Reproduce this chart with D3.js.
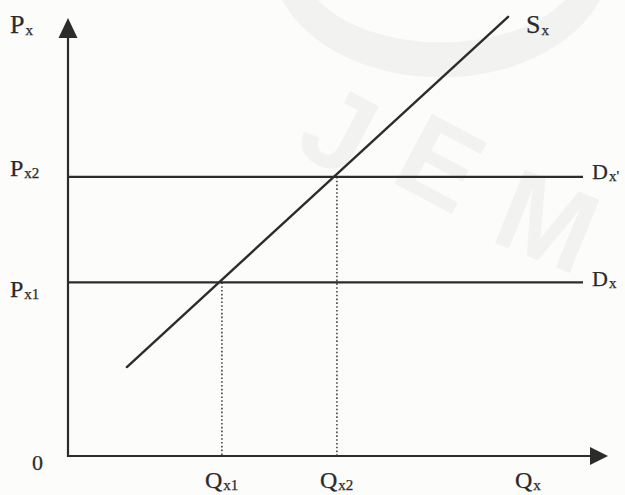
<!DOCTYPE html>
<html>
<head>
<meta charset="utf-8">
<script src="https://cdn.jsdelivr.net/npm/d3@7"></script>
<style>
  html, body { margin: 0; padding: 0; background: #fcfcfb; }
  svg { display: block; }
  .lbl { font-family: "Liberation Serif", "DejaVu Serif", serif; fill: #2a2a2a;
         stroke: #2a2a2a; stroke-width: 0.25; }
  .stamp { font-family: "Liberation Sans", sans-serif; font-weight: bold; font-size: 115px; fill: #f2f2f0; }
</style>
</head>
<body>
<svg id="chart" width="625" height="495"></svg>
<script>
// Price levels set by the two demand lines (Dx and Dx')
const priceLevels = [40, 64.3];
const priceLabels = ["x1", "x2"];
const demandLabels = ["x", "x'"];
// Quantities supplied at those prices
const quantityLevels = [28.5, 49.8];
const quantityLabels = ["x1", "x2"];
// Supply curve Sx, drawn as a straight line between its two ends
const supplyQ = [10.9, 81.5];
const supplyP = [20.5, 101.2];

const svg = d3.select("#chart");
const ink = "#2c2c2c";

const x = d3.scaleLinear().domain([0, 100]).range([68, 608]);
const y = d3.scaleLinear().domain([0, 100]).range([456, 22]);

// faint background stamp
const wm = svg.append("g");
wm.append("path").attr("fill", "#f2f2f0")
  .attr("d", "M282,0 A170,120 0 0 0 600,0 L565,0 A140,80 0 0 1 318,0 Z");
[["J", 292, 150, 28], ["E", 388, 180, 28], ["M", 488, 240, 22]].forEach(([ch, tx, ty, r]) => {
  wm.append("text").attr("class", "stamp").text(ch)
    .attr("transform", `translate(${tx},${ty}) rotate(${r})`);
});

// Axes with arrow heads
const x0 = x(0), y0 = y(0);
svg.append("line").attr("x1", x0).attr("y1", y0 + 1).attr("x2", x0).attr("y2", 30)
  .attr("stroke", ink).attr("stroke-width", 2.2);
svg.append("line").attr("x1", x0 - 1).attr("y1", y0).attr("x2", 598).attr("y2", y0)
  .attr("stroke", ink).attr("stroke-width", 2.2);
svg.append("path").attr("d", `M${x0},18 L${x0 + 9.5},38 L${x0 - 9.5},38 Z`).attr("fill", ink);
svg.append("path").attr("d", `M608,${y0} L590,${y0 - 9} L590,${y0 + 9} Z`).attr("fill", ink);

// Dotted drop lines from each intersection to the quantity axis
svg.selectAll(".drop").data(quantityLevels).join("line")
  .attr("class", "drop")
  .attr("x1", d => x(d)).attr("x2", d => x(d))
  .attr("y1", (d, i) => y(priceLevels[i])).attr("y2", y0)
  .attr("stroke", "#3a3a3a").attr("stroke-width", 1.5)
  .attr("stroke-dasharray", "1.6,2.2");

// Horizontal demand lines
svg.selectAll(".demand").data(priceLevels).join("line")
  .attr("class", "demand")
  .attr("x1", x0).attr("x2", 583)
  .attr("y1", d => y(d)).attr("y2", d => y(d))
  .attr("stroke", ink).attr("stroke-width", 2.2);

// Supply line
const supply = supplyQ.map((q, i) => [q, supplyP[i]]);
svg.append("path").datum(supply)
  .attr("d", d3.line().x(d => x(d[0])).y(d => y(d[1])))
  .attr("fill", "none").attr("stroke", ink).attr("stroke-width", 2.4)
  .attr("stroke-linecap", "round");

// Label with a subscript
function label(px, py, main, sub, size = 24, subSize = 15) {
  const t = svg.append("text").attr("class", "lbl")
    .attr("x", px).attr("y", py).style("font-size", size + "px");
  t.append("tspan").text(main);
  t.append("tspan").text(sub).attr("dx", 1).attr("dy", 2).style("font-size", subSize + "px");
  return t;
}

label(10, 33, "P", "x", 26);
label(10, 176, "P", priceLabels[1]);
label(10, 297, "P", priceLabels[0]);
label(592, y(priceLevels[1]) + 2, "D", demandLabels[1], 22);
label(592, y(priceLevels[0]) + 4, "D", demandLabels[0], 22);
label(526, 33, "S", "x", 26);
quantityLevels.forEach((q, i) => label(x(q) - 17, 488, "Q", quantityLabels[i]));
label(515, 488, "Q", "x");
svg.append("text").attr("class", "lbl").attr("x", 32).attr("y", 470)
  .style("font-size", "22px").text("0");
</script>
</body>
</html>
